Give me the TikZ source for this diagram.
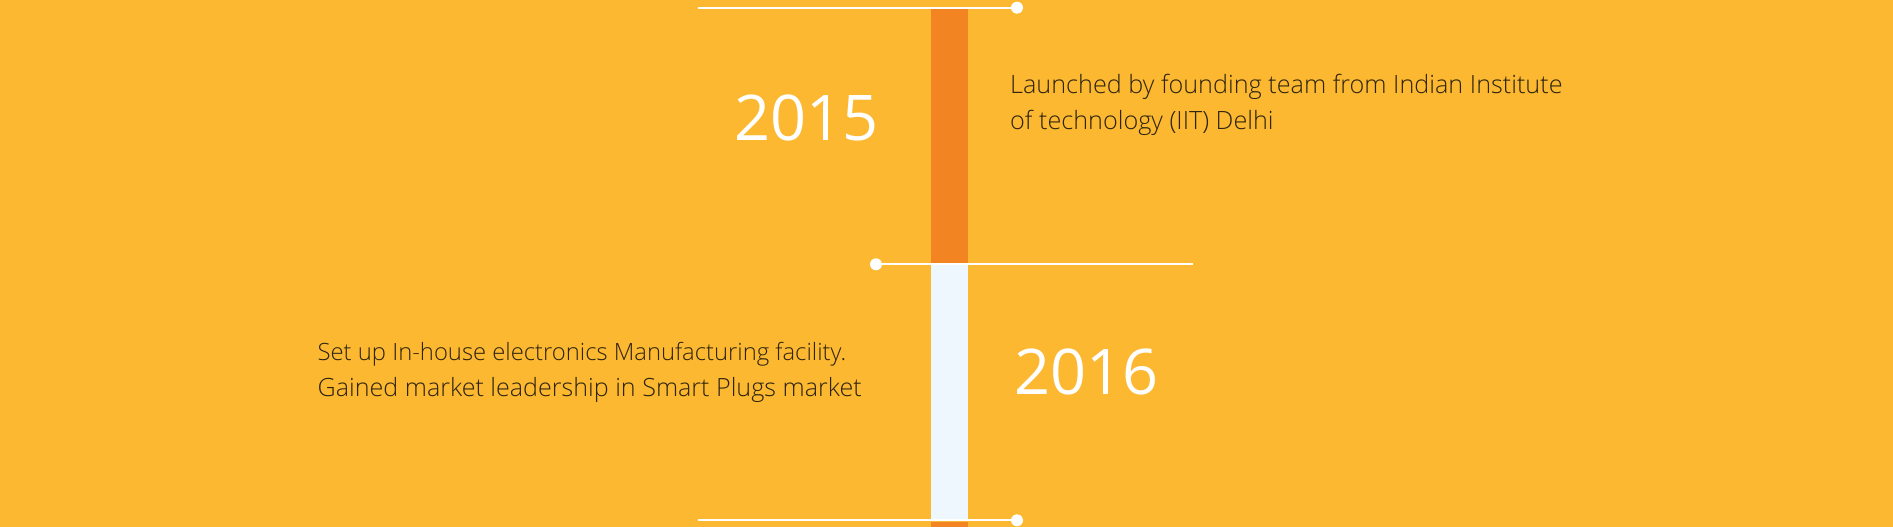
\documentclass[tikz,border=0pt]{standalone}
\usepackage{fontspec}
\setmainfont{Open Sans}
\newfontfamily\oslight{Open Sans Light}
\definecolor{bg}{HTML}{FCB830}
\definecolor{barorange}{HTML}{F28522}
\definecolor{barwhite}{HTML}{EEF6FE}
\definecolor{txt}{HTML}{2E2410}
\tikzset{
  hline/.style={draw=white, line width=2pt},
  dot/.style={circle, fill=white, inner sep=0pt, minimum size=12pt},
  year/.style={anchor=base west, inner sep=0pt, text=white, font=\fontsize{63}{63}\selectfont},
  desc/.style={anchor=base west, inner sep=0pt, text=txt, font=\oslight\fontsize{#1}{36}\selectfont, align=left},
}
\begin{document}
\begin{tikzpicture}[x=1pt,y=-1pt]
\useasboundingbox[fill=bg] (0,0) rectangle (1893,527);
% bar segments
\fill[barorange] (931,9) rectangle (968,263);
\fill[barwhite] (931,265) rectangle (968,521);
\fill[barorange] (931,522) rectangle (968,527);
% top line
\coordinate (t1) at (698,7.7);
\node[dot] (d1) at (1017,7.7) {};
\draw[hline] (t1) -- (d1.center);
% middle line
\node[dot] (d2) at (876,264.3) {};
\coordinate (t2) at (1193,264.3);
\draw[hline] (d2.center) -- (t2);
% bottom line
\coordinate (t3) at (698,520.3);
\node[dot] (d3) at (1017,520.3) {};
\draw[hline] (t3) -- (d3.center);
% texts
\node[year] (y1) at (734,140) {2015};
\node[year] (y2) at (1014,394) {2016};
\node[desc=25.2] (s1) at (1010,129) {Launched by founding team from Indian Institute\\of technology (IIT) Delhi};
\node[desc=23.8] (s2) at (317.5,396.7) {Set up In-house electronics Manufacturing facility.\\{\fontsize{25.1}{36}\selectfont Gained market leadership in Smart Plugs market}};
\end{tikzpicture}
\end{document}
